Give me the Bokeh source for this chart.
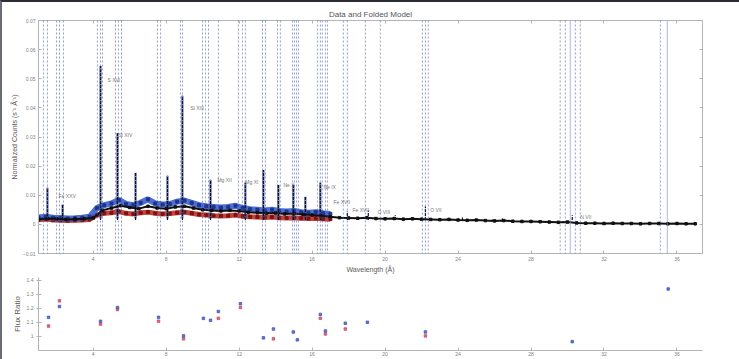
import numpy as np
from bokeh.plotting import figure
from bokeh.models import FixedTicker, LinearAxis, Span, Range1d
from bokeh.layouts import column
from bokeh.embed import file_html
from bokeh.resources import INLINE
from bokeh.core.properties import value

# ---------------- data ----------------
x_ticks = [4, 8, 12, 16, 20, 24, 28, 32, 36]
y_ticks = [-0.01, 0.0, 0.01, 0.02, 0.03, 0.04, 0.05, 0.06, 0.07]
ratio_ticks = [1.0, 1.1, 1.2, 1.3, 1.4]

band_wl = [1.0, 1.4, 1.8, 2.2, 2.6, 3.0, 3.4, 3.8, 4.2, 4.6, 5.0, 5.4, 5.8, 6.2, 6.6, 7.0,
           7.4, 7.8, 8.2, 8.6, 9.0, 9.4, 9.8, 10.2, 10.6, 11.0, 11.4, 11.8, 12.2, 12.6,
           13.0, 13.4, 13.8, 14.2, 14.6, 15.0, 15.4, 15.8, 16.2, 16.6, 17.0]
blue_counts = [0.0024, 0.0026, 0.0023, 0.0022, 0.0020, 0.0021, 0.0023, 0.0026, 0.0056, 0.0066,
               0.0072, 0.0084, 0.0070, 0.0066, 0.0074, 0.0086, 0.0072, 0.0068, 0.0070, 0.0078,
               0.0082, 0.0074, 0.0066, 0.0062, 0.0060, 0.0058, 0.0060, 0.0064, 0.0056, 0.0052,
               0.0050, 0.0048, 0.0050, 0.0046, 0.0044, 0.0046, 0.0042, 0.0040, 0.0042, 0.0038,
               0.0036]
red_counts = [0.0016, 0.0018, 0.0015, 0.0014, 0.0013, 0.0014, 0.0015, 0.0017, 0.0032, 0.0038,
              0.0040, 0.0044, 0.0038, 0.0036, 0.0040, 0.0042, 0.0038, 0.0036, 0.0037, 0.0040,
              0.0042, 0.0038, 0.0034, 0.0032, 0.0030, 0.0029, 0.0030, 0.0032, 0.0028, 0.0026,
              0.0025, 0.0024, 0.0025, 0.0023, 0.0022, 0.0023, 0.0021, 0.0020, 0.0021, 0.0019,
              0.0018]

data_wl = [1.0, 1.5, 2.0, 2.5, 3.0, 3.5, 4.0, 4.5, 5.0, 5.5, 6.0, 6.5, 7.0, 7.5, 8.0, 8.5,
           9.0, 9.5, 10.0, 10.5, 11.0, 11.5, 12.0, 12.5, 13.0, 13.5, 14.0, 14.5, 15.0, 15.5,
           16.0, 16.5, 17.0, 17.5, 18.0, 18.5, 19.0, 19.5, 20.0, 20.5, 21.0, 21.5, 22.0, 22.5,
           23.0, 23.5, 24.0, 24.5, 25.0, 25.5, 26.0, 26.5, 27.0, 27.5, 28.0, 28.5, 29.0, 29.5,
           30.0, 30.5, 31.0, 31.5, 32.0, 32.5, 33.0, 33.5, 34.0, 34.5, 35.0, 35.5, 36.0, 36.5,
           37.0]
data_counts = [0.0018, 0.0020, 0.0019, 0.0017, 0.0018, 0.0019, 0.0022, 0.0048, 0.0056, 0.0064,
               0.0058, 0.0054, 0.0062, 0.0056, 0.0054, 0.0060, 0.0062, 0.0056, 0.0050, 0.0048,
               0.0046, 0.0048, 0.0046, 0.0042, 0.0040, 0.0038, 0.0039, 0.0036, 0.0037, 0.0034,
               0.0032, 0.0030, 0.0026, 0.0023, 0.0022, 0.0021, 0.0023, 0.0020, 0.0019, 0.0020,
               0.0018, 0.0019, 0.0018, 0.0017, 0.0016, 0.0017, 0.0015, 0.0014, 0.0015, 0.0013,
               0.0012, 0.0013, 0.0011, 0.0010, 0.0010, 0.0009, 0.0008, 0.0007, 0.0008, 0.0005,
               0.0004, 0.0004, 0.0003, 0.0004, 0.0003, 0.0003, 0.0002, 0.0003, 0.0003, 0.0002,
               0.0003, 0.0002, 0.0002]

peak_wl = [1.49, 2.32, 4.40, 5.33, 6.32, 8.07, 8.89, 10.43, 12.34, 13.33, 14.15, 14.97,
           15.63, 16.45, 17.93, 19.08, 20.56, 22.21, 24.24, 25.88, 26.43, 30.26]
peak_counts = [0.0126, 0.0068, 0.0544, 0.0313, 0.0177, 0.0167, 0.0442, 0.0153, 0.0143, 0.0187,
               0.0136, 0.0136, 0.0095, 0.0143, 0.0044, 0.0048, 0.0031, 0.0061, 0.0024, 0.0017,
               0.0020, 0.0031]

line_wl = [1.27, 1.49, 1.99, 2.15, 2.37, 4.23, 4.40, 4.51, 5.22, 5.38, 5.55, 7.52, 7.69,
           8.78, 8.89, 9.99, 10.15, 10.32, 10.86, 11.96, 12.18, 12.34, 13.28, 13.44, 14.10,
           14.26, 14.92, 15.03, 15.14, 15.25, 16.29, 16.45, 16.56, 16.73, 16.84, 17.71, 17.93,
           18.92, 19.74, 22.04, 22.21, 22.37, 29.60, 29.88, 30.43, 30.70, 35.09]
line_solid_wl = [30.15, 35.47]

label_wl = [2.10, 4.78, 5.38, 9.33, 10.81, 12.34, 14.43, 16.62, 17.17, 18.21, 19.58, 22.48, 30.70]
label_counts = [0.0099, 0.0497, 0.0306, 0.0398, 0.0153, 0.0146, 0.0136, 0.0129, 0.0078,
                0.0051, 0.0044, 0.0051, 0.0027]
label_text = ["Fe XXV", "S XVI", "Si XIV", "Si XIII", "Mg XII", "Mg XI", "Ne X", "Ne IX",
              "Fe XVII", "Fe XVII", "O VIII", "O VII", "N VII"]

ratio_wl = [1.55, 2.15, 4.40, 5.33, 7.58, 8.95, 10.04, 10.43, 10.86, 12.07, 13.33, 13.88,
            14.97, 15.19, 16.45, 16.73, 17.82, 19.03, 22.21, 30.26, 35.52]
ratio_blue = [1.136, 1.213, 1.108, 1.206, 1.136, 1.004, 1.129, 1.115, 1.178, 1.233, 0.990,
              1.053, 1.032, 0.976, 1.157, 1.039, 1.094, 1.101, 1.032, 0.963, 1.338]
ratio_red = [1.074, 1.254, 1.088, 1.192, 1.108, 0.983, np.nan, np.nan, 1.129, 1.206, np.nan,
             0.983, np.nan, np.nan, 1.129, 1.018, 1.053, np.nan, 1.004, np.nan, np.nan]

# ---------------- style ----------------
FONT = "Liberation Sans"
AXIS_COL = "#b4b4b4"
TEXT_COL = "#5a5a5a"
XR = (1.0, 37.4)

def style_axis(ax, labels=True):
    ax.axis_line_color = AXIS_COL
    ax.major_tick_line_color = AXIS_COL
    ax.minor_tick_line_color = None
    ax.major_tick_in = 3
    ax.major_tick_out = 0
    ax.major_label_text_font = FONT
    ax.major_label_text_font_size = "5px"
    ax.major_label_text_color = "#808080"
    ax.major_label_standoff = 3
    ax.axis_label_text_font = FONT
    ax.axis_label_text_font_size = "7px"
    ax.axis_label_text_font_style = "normal"
    ax.axis_label_text_color = TEXT_COL
    ax.axis_label_standoff = 2
    if not labels:
        ax.major_label_text_font_size = "0px"
        ax.major_label_text_color = None

# ---------------- main plot ----------------
p = figure(width=737, height=273, output_backend="svg", toolbar_location=None,
           x_range=Range1d(*XR), y_range=Range1d(-0.01, 0.07),
           min_border_left=36, min_border_right=37, min_border_top=18, min_border_bottom=20,
           title="Data and Folded Model")
p.title.text_font = FONT
p.title.text_font_size = "8px"
p.title.text_font_style = "normal"
p.title.text_color = "#555555"
p.title.align = "center"
p.title.standoff = 4
p.grid.visible = False
p.outline_line_color = AXIS_COL
p.background_fill_color = "white"
p.border_fill_color = "white"

p.xaxis.ticker = FixedTicker(ticks=x_ticks)
p.yaxis.ticker = FixedTicker(ticks=y_ticks)
p.xaxis.axis_label = "Wavelength (Å)"
p.yaxis.axis_label = "Normalized Counts (s⁻¹ Å⁻¹)"
style_axis(p.xaxis[0])
style_axis(p.yaxis[0])
top_ax = LinearAxis(ticker=FixedTicker(ticks=x_ticks))
right_ax = LinearAxis(ticker=FixedTicker(ticks=y_ticks))
style_axis(top_ax, labels=False)
style_axis(right_ax, labels=False)
p.add_layout(top_ax, "above")
p.add_layout(right_ax, "right")

for w in line_wl:
    p.add_layout(Span(location=w, dimension="height", line_color="#3d4fb0",
                      line_alpha=0.55, line_width=1, line_dash="2 2"))
for w in line_solid_wl:
    p.add_layout(Span(location=w, dimension="height", line_color="#8c95e0",
                      line_alpha=0.7, line_width=1))

# red and blue bands
p.line(band_wl, red_counts, line_color="#b8231e", line_width=5, line_alpha=0.85)
p.scatter(band_wl, red_counts, marker="square", size=3, color="#7a1410")
p.line(band_wl, blue_counts, line_color="#2f55c8", line_width=6, line_alpha=0.85)
p.scatter(band_wl, blue_counts, marker="square", size=3, color="#1d3590")

# blue spikes for lines in the band region
bw = [w for w in peak_wl if w < 17.2]
bc = [c for w, c in zip(peak_wl, peak_counts) if w < 17.2]
p.segment(x0=bw, y0=[0.002] * len(bw), x1=bw, y1=bc, line_color="#2a3f9a",
          line_width=2.5, line_alpha=0.6)

# black data
p.line(data_wl, data_counts, line_color="#111111", line_width=2)
p.scatter(data_wl, data_counts, marker="square", size=2.5, color="#111111")
p.segment(x0=peak_wl, y0=[0.0015] * len(peak_wl), x1=peak_wl, y1=peak_counts,
          line_color="#111111", line_width=1.2, line_dash="3 1")

p.text(x=label_wl, y=label_counts, text=label_text, text_font=value(FONT),
       text_font_size="5px", text_color="#777777", text_baseline="middle", text_align="left")

# ---------------- ratio plot ----------------
r = figure(width=737, height=84, output_backend="svg", toolbar_location=None,
           x_range=p.x_range, y_range=Range1d(0.9, 1.42),
           min_border_left=36, min_border_right=37, min_border_top=2, min_border_bottom=9)
r.grid.visible = False
r.outline_line_color = None
r.background_fill_color = "white"
r.border_fill_color = "white"
r.xaxis.ticker = FixedTicker(ticks=x_ticks)
r.yaxis.ticker = FixedTicker(ticks=ratio_ticks)
r.yaxis.axis_label = "Flux Ratio"
style_axis(r.xaxis[0])
style_axis(r.yaxis[0])
r.yaxis.axis_label_text_font_size = "8px"
r.xaxis.major_label_standoff = 1
r.yaxis.major_tick_out = 2

r.scatter(ratio_wl, ratio_red, marker="square", size=2.5, color="#d0506a", alpha=0.85)
r.scatter(ratio_wl, ratio_blue, marker="square", size=2.5, color="#4a5cc0", alpha=0.85)

layout = column(p, r, spacing=0,
                styles={"background-color": "white",
                        "border-top": "2px solid #2a2d36",
                        "border-left": "2px solid #6a6d76"})
open("out.html", "w").write(file_html(layout, INLINE))
